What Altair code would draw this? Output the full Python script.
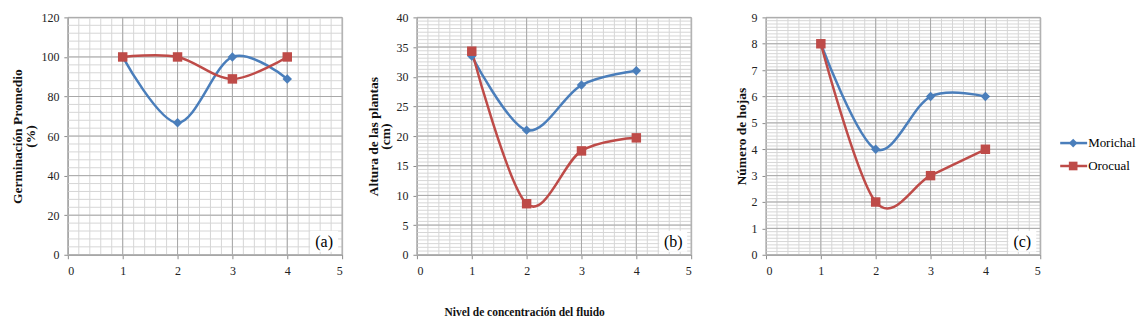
import altair as alt
import pandas as pd

niveles = [1, 2, 3, 4]
series = ["Morichal", "Orocual"]
colores = ["#4a7ebb", "#be4b48"]
formas = ["diamond", "square"]

germ_morichal = [100, 66.7, 100, 88.9]
germ_orocual = [100, 100, 88.9, 100]
altura_morichal = [33.5, 21.0, 28.6, 31.0]
altura_orocual = [34.3, 8.6, 17.5, 19.7]
hojas_morichal = [8, 4, 6, 6]
hojas_orocual = [8, 2, 3, 4]

x_major = [0, 1, 2, 3, 4, 5]
FONT = "Liberation Serif"
W, H = 275, 238


def long_df(m, o):
    rows = []
    for s, vals in zip(series, [m, o]):
        for n, v in zip(niveles, vals):
            rows.append({"nivel": n, "valor": v, "serie": s})
    return pd.DataFrame(rows)


color_enc = alt.Color("serie:N", scale=alt.Scale(domain=series, range=colores), legend=None)
shape_enc = alt.Shape("serie:N", scale=alt.Scale(domain=series, range=formas), legend=None)


def panel(df, ymax, ymajor, ndiv, ytitle, label, xtitle="", xtitle_kwargs=None, extra=None):
    x_minor = [round(i * 0.2, 6) for i in range(26)]
    n_y = int(round(ymax / ymajor * ndiv))
    y_minor = [round(i * ymajor / ndiv, 6) for i in range(n_y + 1)]
    y_major = [i * ymajor for i in range(int(round(ymax / ymajor)) + 1)]

    xaxis_kw = dict(values=x_major, grid=False, labelOverlap=False, format="d", title=xtitle,
                    labelPadding=7)
    if xtitle_kwargs:
        xaxis_kw.update(xtitle_kwargs)
    x = alt.X("nivel:Q", scale=alt.Scale(domain=[0, 5], nice=False, zero=False),
              axis=alt.Axis(**xaxis_kw))
    y = alt.Y("valor:Q", scale=alt.Scale(domain=[0, ymax], nice=False),
              axis=alt.Axis(values=y_major, grid=False, labelOverlap=False, format="d",
                            title=ytitle, titleLineHeight=13))

    gx_min = pd.DataFrame({"nivel": x_minor})
    gy_min = pd.DataFrame({"valor": y_minor})
    gx_maj = pd.DataFrame({"nivel": x_major})
    gy_maj = pd.DataFrame({"valor": y_major})
    layers = [
        alt.Chart(gx_min).mark_rule(color="#d6d6d6", strokeWidth=1).encode(x=x),
        alt.Chart(gy_min).mark_rule(color="#d6d6d6", strokeWidth=1).encode(y=y),
        alt.Chart(gx_maj).mark_rule(color="#a8a8a8", strokeWidth=1).encode(x=x),
        alt.Chart(gy_maj).mark_rule(color="#a8a8a8", strokeWidth=1).encode(y=y),
    ]
    base = alt.Chart(df)
    layers.append(base.mark_line(interpolate="cardinal", strokeWidth=2.5).encode(
        x=x, y=y, color=color_enc))
    layers.append(base.mark_point(filled=True, opacity=1, size=90).encode(
        x=x, y=y, color=color_enc, shape=shape_enc))
    lab_df = pd.DataFrame({"t": [label]})
    layers.append(alt.Chart(lab_df).mark_rect(color="white").encode(
        x=alt.value(W - 32), x2=alt.value(W - 4), y=alt.value(H - 24), y2=alt.value(H - 3)))
    layers.append(alt.Chart(lab_df).mark_text(font=FONT, fontSize=16, align="center",
                                              baseline="middle").encode(
        x=alt.value(W - 18), y=alt.value(H - 13), text="t:N"))
    if extra:
        layers.extend(extra)
    return alt.layer(*layers).properties(width=W, height=H)


# legend items drawn beside panel (c)
legend_layers = []
for i, s in enumerate(series):
    d = pd.DataFrame({"serie": [s]})
    yy = 126 + 23 * i
    legend_layers.append(alt.Chart(d).mark_rule(strokeWidth=2.5).encode(
        x=alt.value(W + 20), x2=alt.value(W + 47), y=alt.value(yy), color=color_enc))
    legend_layers.append(alt.Chart(d).mark_point(filled=True, opacity=1, size=75).encode(
        x=alt.value(W + 33), y=alt.value(yy), color=color_enc, shape=shape_enc))
    legend_layers.append(alt.Chart(d).mark_text(font=FONT, fontSize=13, align="left",
                                                baseline="middle").encode(
        x=alt.value(W + 48), y=alt.value(yy), text="serie:N"))

pa = panel(long_df(germ_morichal, germ_orocual), 120, 20, 5,
           ["Germinación Promedio", "(%)"], "(a)")
pb = panel(long_df(altura_morichal, altura_orocual), 40, 5, 8,
           ["Altura de las plantas", "(cm)"], "(b)",
           xtitle="Nivel de concentración del fluido",
           xtitle_kwargs=dict(titleX=W / 2 - 30, titleY=58, titleBaseline="middle",
                              titleFontSize=11.5))
pc = panel(long_df(hojas_morichal, hojas_orocual), 9, 1, 8,
           "Número de hojas", "(c)", extra=legend_layers)

chart = alt.hconcat(pa, pb, pc, spacing=75, bounds="flush").properties(
    padding={"left": 2, "top": 2, "right": 0, "bottom": 2},
    background="white",
).configure_view(stroke="#a8a8a8").configure_axis(
    labelFont=FONT, labelFontSize=12, labelColor="#222",
    titleFont=FONT, titleFontSize=13.5, titleFontWeight="bold", titleColor="#111",
    domainColor="#8c8c8c", tickColor="#8c8c8c", tickSize=4, labelPadding=5, titlePadding=3,
)

chart.save("out.html", embed_options={"renderer": "svg", "actions": False})
